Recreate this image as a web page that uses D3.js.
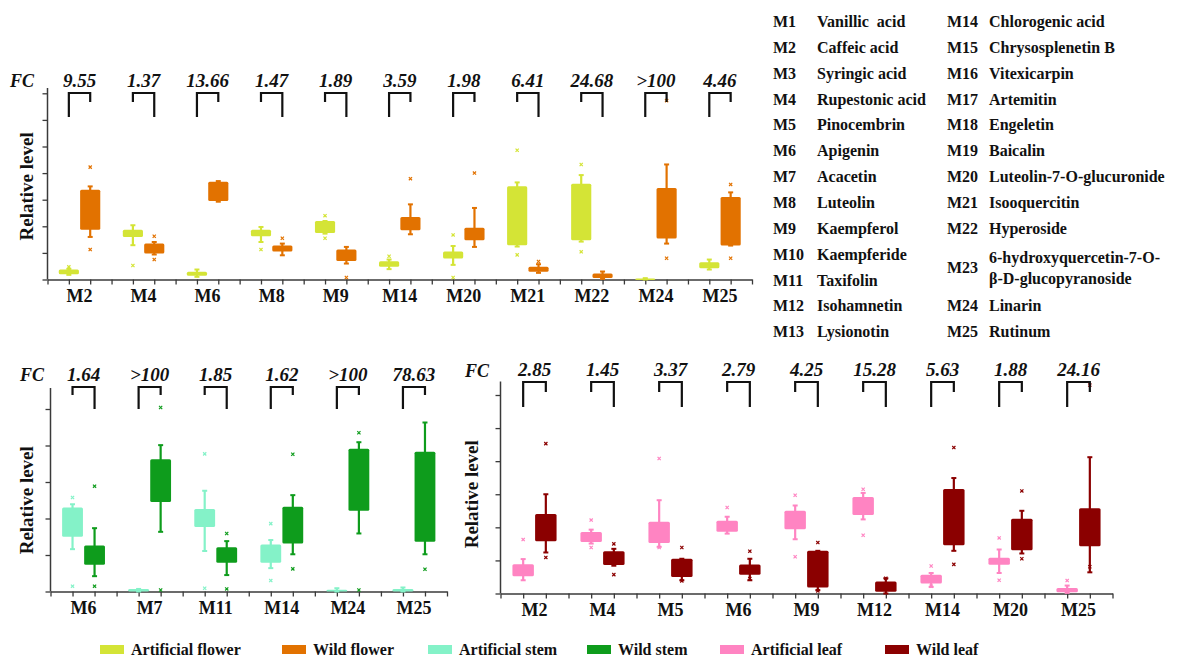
<!DOCTYPE html>
<html>
<head>
<meta charset="utf-8">
<script src="https://cdn.jsdelivr.net/npm/d3@7"></script>
<style>
  body { margin: 0; background: #fff; }
</style>
</head>
<body>
<div id="chart"></div>
<script>
// ---- data: boxes are [min, q1, q3, max], outliers listed separately ----
var flowerCats = ['M2', 'M4', 'M6', 'M8', 'M9', 'M14', 'M20', 'M21', 'M22', 'M24', 'M25'];
var flowerFC = ['9.55', '1.37', '13.66', '1.47', '1.89', '3.59', '1.98', '6.41', '24.68', '>100', '4.46'];
var flowerArtificial = [
  [0.175, 0.2, 0.375, 0.4], [1.29, 1.6, 1.875, 2.04], [0.1, 0.14, 0.29, 0.375], [1.41, 1.625, 1.875, 1.975],
  [1.725, 1.75, 2.2, 2.2], [0.39, 0.475, 0.69, 0.75], [0.55, 0.79, 1.05, 1.26], [1.24, 1.29, 3.51, 3.65],
  [1.425, 1.475, 3.6, 3.925], [0, 0, 0.04, 0.05], [0.375, 0.425, 0.65, 0.75]
];
var flowerArtificialOut = [[0.475], [0.525], [], [1.125], [2.4, 1.55], [0.875], [1.675, 0.075], [4.86, 0.925], [4.325, 1.04], [], []];
var flowerWild = [
  [1.6, 1.875, 3.375, 3.5], [0.94, 0.975, 1.35, 1.41], [2.925, 2.95, 3.675, 3.7], [0.91, 1.05, 1.275, 1.35],
  [0.6, 0.7, 1.125, 1.225], [1.7, 1.85, 2.35, 2.825], [1.225, 1.475, 1.95, 2.69], [0.25, 0.29, 0.475, 0.575],
  [0.025, 0.06, 0.225, 0.3], [1.35, 1.54, 3.44, 4.325], [1.275, 1.275, 3.1, 3.275]
];
var flowerWildOut = [[4.225, 1.125], [1.625, 0.75], [], [1.55], [0.075], [3.79], [4.0], [0.675], [], [6.725, 0.8], [3.575, 0.8]];

var stemCats = ['M6', 'M7', 'M11', 'M14', 'M24', 'M25'];
var stemFC = ['1.64', '>100', '1.85', '1.62', '>100', '78.63'];
var stemArtificial = [
  [1.16, 1.5, 2.3, 2.39], [0, 0, 0.07, 0.07], [1.11, 1.77, 2.26, 2.76],
  [0.64, 0.79, 1.29, 1.41], [0, 0, 0.046, 0.09], [0, 0, 0.07, 0.11]
];
var stemArtificialOut = [[2.575, 0.146], [], [3.77, 0.09], [1.86, 0.3], [], []];
var stemWild = [
  [0.42, 0.73, 1.26, 1.735], [1.635, 2.45, 3.62, 4.01], [0.45, 0.79, 1.21, 1.38],
  [1.02, 1.315, 2.32, 2.64], [1.59, 2.21, 3.91, 4.09], [1.02, 1.36, 3.83, 4.63]
];
var stemWildOut = [[2.886, 0.146], [5.04, 0.04], [1.59, 0.07], [3.76, 0.62], [4.35, 0.04], [0.61]];

var leafCats = ['M2', 'M4', 'M5', 'M6', 'M9', 'M12', 'M14', 'M20', 'M25'];
var leafFC = ['2.85', '1.45', '3.37', '2.79', '4.25', '15.28', '5.63', '1.88', '24.16'];
var leafArtificial = [
  [0.4, 0.524, 0.886, 1.04], [1.51, 1.56, 1.86, 1.93], [1.41, 1.53, 2.17, 2.82], [1.81, 1.87, 2.2, 2.32],
  [1.64, 1.94, 2.5, 2.66], [2.24, 2.37, 2.92, 3.04], [0.2, 0.3, 0.57, 0.62], [0.62, 0.87, 1.08, 1.33],
  [0.02, 0.04, 0.17, 0.24]
];
var leafArtificialOut = [[1.63], [2.22, 1.39], [4.08, 1.39], [2.6], [2.97, 1.11], [3.15, 1.76], [0.83, 0.22], [1.68, 0.4], [0.39]];
var leafWild = [
  [1.24, 1.58, 2.4, 3.0], [0.84, 0.86, 1.28, 1.35], [0.4, 0.5, 1.05, 1.05], [0.4, 0.57, 0.88, 1.05],
  [0.1, 0.18, 1.29, 1.29], [0, 0.05, 0.36, 0.46], [1.29, 1.46, 3.16, 3.49], [1.21, 1.31, 2.26, 2.5],
  [0.64, 1.43, 2.58, 4.12]
];
var leafWildOut = [[4.53, 1.09], [1.5, 0.57], [1.39, 0.38], [1.28, 0.45], [1.54, 0.08], [0.46], [4.41, 0.88], [3.1, 1.05], [6.3, 0.81]];

var seriesNames = ['Artificial flower', 'Wild flower', 'Artificial stem', 'Wild stem', 'Artificial leaf', 'Wild leaf'];
var seriesColors = ['#d4e436', '#e27200', '#84f2c8', '#0e9c1c', '#ff84c2', '#8b0000'];

var compoundCodes1 = ['M1', 'M2', 'M3', 'M4', 'M5', 'M6', 'M7', 'M8', 'M9', 'M10', 'M11', 'M12', 'M13'];
var compoundNames1 = ['Vanillic  acid', 'Caffeic acid', 'Syringic acid', 'Rupestonic acid', 'Pinocembrin', 'Apigenin',
  'Acacetin', 'Luteolin', 'Kaempferol', 'Kaempferide', 'Taxifolin', 'Isohamnetin', 'Lysionotin'];
var compoundCodes2 = ['M14', 'M15', 'M16', 'M17', 'M18', 'M19', 'M20', 'M21', 'M22', 'M23', 'M24', 'M25'];
var compoundNames2 = ['Chlorogenic acid', 'Chrysosplenetin B', 'Vitexicarpin', 'Artemitin', 'Engeletin', 'Baicalin',
  'Luteolin-7-O-glucuronide', 'Isooquercitin', 'Hyperoside', '6-hydroxyquercetin-7-O-|\u03b2-D-glucopyranoside',
  'Linarin', 'Rutinum'];

var svg = d3.select('#chart').append('svg')
  .attr('width', 1178)
  .attr('height', 660)
  .attr('font-family', 'Liberation Serif')
  .attr('font-weight', 'bold')
  .attr('fill', '#111');

var axisColor = '#3a3a3a';

function drawPanel(p) {
  var n = p.cats.length;
  var x = d3.scaleLinear().domain([0, n]).range([p.x0, p.x1]);
  var y = d3.scaleLinear().domain([0, p.yMax]).range([p.yBase, p.yTopTick]);
  var bw = (p.x1 - p.x0) / n / 3;
  var g = svg.append('g');

  // y axis
  var ya = g.append('g').attr('transform', 'translate(' + p.x0 + ',0)')
    .call(d3.axisLeft(y).tickValues(d3.range(0, p.yMax + 1)).tickFormat('').tickSize(5).tickSizeOuter(0));
  ya.select('.domain').remove();
  ya.selectAll('line').attr('stroke', axisColor).attr('stroke-width', 1.3);
  g.append('line')
    .attr('x1', p.x0).attr('x2', p.x0)
    .attr('y1', p.yBase).attr('y2', p.axisTop)
    .attr('stroke', axisColor).attr('stroke-width', 1.5);

  // x axis
  var xa = g.append('g').attr('transform', 'translate(0,' + p.yBase + ')')
    .call(d3.axisBottom(x).tickValues(d3.range(0, 3 * n + 1).map(function(k) { return k / 3; }))
      .tickFormat('').tickSize(5).tickSizeOuter(0));
  xa.select('.domain').attr('stroke', axisColor).attr('stroke-width', 1.5);
  xa.selectAll('line').attr('stroke', axisColor).attr('stroke-width', 1.3);

  g.selectAll('text.cat').data(p.cats)
    .enter().append('text')
    .attr('class', 'cat')
    .attr('x', function(d, i) { return x(i + 0.5); })
    .attr('y', p.yBase + 22)
    .attr('text-anchor', 'middle')
    .attr('font-size', 18)
    .text(function(d) { return d; });

  // y label
  g.append('text')
    .attr('transform', 'translate(' + p.yLabelX + ',' + (p.yBase + p.yTopTick) / 2 + ') rotate(-90)')
    .attr('text-anchor', 'middle')
    .attr('font-size', 19)
    .text('Relative level');

  g.append('text')
    .attr('x', p.fcX).attr('y', p.fcY)
    .attr('font-size', 18).attr('font-style', 'italic')
    .text('FC');

  // boxes
  var series = [
    { box: p.art, out: p.artOut, off: 1 / 3, color: p.artColor },
    { box: p.wild, out: p.wildOut, off: 2 / 3, color: p.wildColor }
  ];
  series.forEach(function(s) {
    var sg = g.append('g');
    var items = s.box.map(function(b, i) { return { b: b, i: i, out: s.out[i] }; });

    sg.selectAll('line.whisker').data(items)
      .enter().append('line')
      .attr('class', 'whisker')
      .attr('x1', function(d) { return x(d.i + s.off); })
      .attr('x2', function(d) { return x(d.i + s.off); })
      .attr('y1', function(d) { return y(d.b[0]); })
      .attr('y2', function(d) { return y(d.b[3]); })
      .attr('stroke', s.color).attr('stroke-width', 2.2);

    [0, 3].forEach(function(k) {
      sg.selectAll('line.cap' + k).data(items)
        .enter().append('line')
        .attr('class', 'cap' + k)
        .attr('x1', function(d) { return x(d.i + s.off) - 2.5; })
        .attr('x2', function(d) { return x(d.i + s.off) + 2.5; })
        .attr('y1', function(d) { return y(d.b[k]); })
        .attr('y2', function(d) { return y(d.b[k]); })
        .attr('stroke', s.color).attr('stroke-width', 2);
    });

    sg.selectAll('rect.box').data(items)
      .enter().append('rect')
      .attr('class', 'box')
      .attr('x', function(d) { return x(d.i + s.off) - bw / 2 + 0.6; })
      .attr('width', bw - 1.2)
      .attr('y', function(d) { return y(d.b[2]); })
      .attr('height', function(d) { return Math.max(1.5, y(d.b[1]) - y(d.b[2])); })
      .attr('rx', 1.5)
      .attr('fill', s.color);

    var outs = [];
    items.forEach(function(d) {
      d.out.forEach(function(v) { outs.push({ i: d.i, v: v }); });
    });
    sg.selectAll('path.out').data(outs)
      .enter().append('path')
      .attr('class', 'out')
      .attr('transform', function(d) { return 'translate(' + x(d.i + s.off) + ',' + y(d.v) + ')'; })
      .attr('d', d3.symbol(d3.symbolTimes, 8))
      .attr('fill', 'none')
      .attr('stroke', s.color).attr('stroke-width', 1.2);
  });

  // fold-change brackets
  var brackets = p.cats.map(function(c, i) {
    var a = (p.art[i][1] + p.art[i][2]) / 2;
    var w = (p.wild[i][1] + p.wild[i][2]) / 2;
    return { i: i, fc: p.fc[i], leftLong: a < w };
  });
  var bg = g.append('g');
  bg.selectAll('path.bracket').data(brackets)
    .enter().append('path')
    .attr('class', 'bracket')
    .attr('d', function(d) {
      var xl = x(d.i + 1 / 3), xr = x(d.i + 2 / 3);
      var ll = d.leftLong ? p.longLeg : p.shortLeg;
      var rl = d.leftLong ? p.shortLeg : p.longLeg;
      return 'M' + xl + ',' + (p.brTop + ll) + 'V' + p.brTop + 'H' + xr + 'V' + (p.brTop + rl);
    })
    .attr('fill', 'none').attr('stroke', '#111').attr('stroke-width', 2.2);
  bg.selectAll('text.fc').data(brackets)
    .enter().append('text')
    .attr('class', 'fc')
    .attr('x', function(d) { return x(d.i + 0.5); })
    .attr('y', p.brTop - 6)
    .attr('text-anchor', 'middle')
    .attr('font-size', 19).attr('font-style', 'italic')
    .text(function(d) { return d.fc; });
}

drawPanel({
  cats: flowerCats, fc: flowerFC,
  art: flowerArtificial, artOut: flowerArtificialOut, wild: flowerWild, wildOut: flowerWildOut,
  artColor: seriesColors[0], wildColor: seriesColors[1],
  x0: 47.5, x1: 752, yBase: 279.5, yTopTick: 93.3, yMax: 7, axisTop: 88,
  yLabelX: 33, fcX: 10, fcY: 87, brTop: 93, longLeg: 24, shortLeg: 9
});

drawPanel({
  cats: stemCats, fc: stemFC,
  art: stemArtificial, artOut: stemArtificialOut, wild: stemWild, wildOut: stemWildOut,
  artColor: seriesColors[2], wildColor: seriesColors[3],
  x0: 50.5, x1: 447, yBase: 591.5, yTopTick: 409, yMax: 5, axisTop: 388,
  yLabelX: 33, fcX: 20, fcY: 381, brTop: 387, longLeg: 22, shortLeg: 8
});

drawPanel({
  cats: leafCats, fc: leafFC,
  art: leafArtificial, artOut: leafArtificialOut, wild: leafWild, wildOut: leafWildOut,
  artColor: seriesColors[4], wildColor: seriesColors[5],
  x0: 500.5, x1: 1112.5, yBase: 593.5, yTopTick: 395, yMax: 6, axisTop: 381.5,
  yLabelX: 478, fcX: 465, fcY: 377, brTop: 382, longLeg: 25, shortLeg: 10
});

// compound key on the right
var key = svg.append('g').attr('font-size', 16);
var rowY = function(r) { return 27 + r * 25.85; };
key.selectAll('text.c1').data(compoundCodes1)
  .enter().append('text').attr('class', 'c1')
  .attr('x', 773).attr('y', function(d, i) { return rowY(i); })
  .text(function(d) { return d; });
key.selectAll('text.n1').data(compoundNames1)
  .enter().append('text').attr('class', 'n1')
  .attr('x', 817).attr('y', function(d, i) { return rowY(i); })
  .style('white-space', 'pre')
  .text(function(d) { return d; });
var rows2 = [0, 1, 2, 3, 4, 5, 6, 7, 8, 9.5, 11, 12];
key.selectAll('text.c2').data(compoundCodes2)
  .enter().append('text').attr('class', 'c2')
  .attr('x', 947).attr('y', function(d, i) { return rowY(rows2[i]); })
  .text(function(d) { return d; });
key.selectAll('text.n2').data(compoundNames2)
  .enter().append('text').attr('class', 'n2')
  .attr('x', 989).attr('y', function(d, i) { return rowY(rows2[i]); })
  .each(function(d) {
    var parts = d.split('|');
    var t = d3.select(this);
    if (parts.length > 1) {
      t.attr('y', null);
      var base = rowY(rows2[9]);
      parts.forEach(function(s, k) {
        t.append('tspan').attr('x', 989).attr('y', base - 10 + k * 21).text(s);
      });
    } else {
      t.text(d);
    }
  });

// series legend at the bottom
var legendX = [100, 282, 428, 587, 720, 885];
var lg = svg.append('g').selectAll('g').data(seriesNames)
  .enter().append('g')
  .attr('transform', function(d, i) { return 'translate(' + legendX[i] + ',645)'; });
lg.append('rect').attr('width', 24).attr('height', 9)
  .attr('fill', function(d, i) { return seriesColors[i]; });
lg.append('text').attr('x', 31).attr('y', 10)
  .attr('font-size', 16)
  .text(function(d) { return d; });
</script>
</body>
</html>
